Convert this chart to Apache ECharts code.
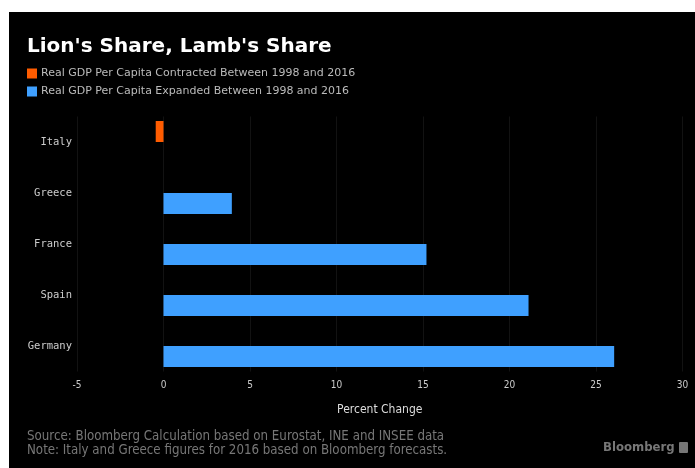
<!DOCTYPE html>
<html>
<head>
<meta charset="utf-8">
<script src="https://cdn.jsdelivr.net/npm/echarts@6/dist/echarts.min.js"></script>
<style>
  html, body { margin: 0; padding: 0; background: #fff; }
  #chart { position: absolute; left: 9px; top: 12px; width: 686px; height: 456px; background: #000; }
</style>
</head>
<body>
<div id="chart"></div>
<script>
// data
const countries = ['Italy', 'Greece', 'France', 'Spain', 'Germany'];
const contracted = [-0.45, null, null, null, null];
const expanded = [null, 3.95, 15.2, 21.1, 26.05];
const seriesNames = [
  'Real GDP Per Capita Contracted Between 1998 and 2016',
  'Real GDP Per Capita Expanded Between 1998 and 2016'
];

const chart = echarts.init(document.getElementById('chart'));

const option = {
  backgroundColor: '#000',
  animation: false,
  title: {
    text: "Lion's Share, Lamb's Share",
    left: 13,
    top: 20,
    textStyle: { color: '#fff', fontSize: 20, fontWeight: 'bold', fontFamily: 'DejaVu Sans' }
  },
  legend: {
    orient: 'vertical',
    left: 13,
    top: 51,
    itemWidth: 10,
    itemHeight: 10,
    itemGap: 7,
    icon: 'rect',
    data: seriesNames,
    textStyle: { color: '#bbb', fontSize: 11, fontFamily: 'DejaVu Sans', padding: [0, 0, 0, -1] }
  },
  grid: { left: 68, right: 12.5, top: 104.5, bottom: 96.5 },
  xAxis: {
    type: 'value',
    min: -5,
    max: 30,
    interval: 5,
    name: 'Percent Change',
    nameLocation: 'middle',
    nameGap: 32,
    nameTextStyle: { color: '#ddd', fontSize: 12, fontFamily: 'DejaVu Sans Condensed' },
    axisLine: { show: false },
    axisTick: { show: false },
    axisLabel: { color: '#ccc', fontSize: 10, margin: 9, fontFamily: 'DejaVu Sans Condensed' },
    splitLine: { show: true, lineStyle: { color: '#121212', width: 1 } }
  },
  yAxis: {
    type: 'category',
    data: countries,
    inverse: true,
    axisLine: { show: false },
    axisTick: { show: false },
    axisLabel: { color: '#ccc', fontSize: 10.5, margin: 5, fontFamily: 'DejaVu Sans Mono' }
  },
  series: [
    {
      name: seriesNames[0],
      type: 'bar',
      data: contracted,
      barWidth: 21,
      barGap: '0%',
      itemStyle: { color: '#ff5c00' }
    },
    {
      name: seriesNames[1],
      type: 'bar',
      data: expanded,
      barWidth: 21,
      itemStyle: { color: '#3fa0ff' }
    }
  ],
  graphic: [
    {
      type: 'text', left: 18, top: 418,
      style: {
        text: 'Source: Bloomberg Calculation based on Eurostat, INE and INSEE data\nNote: Italy and Greece figures for 2016 based on Bloomberg forecasts.',
        fill: '#777', font: '13.2px "DejaVu Sans Condensed"', lineHeight: 14
      }
    },
    {
      type: 'text', left: 594, top: 429,
      style: { text: 'Bloomberg', fill: '#777', font: 'bold 13px "DejaVu Sans Condensed"' }
    },
    {
      type: 'rect', left: 670, top: 430, shape: { width: 9, height: 11, r: 1 },
      style: { fill: '#777' }
    }
  ]
};

chart.setOption(option);
</script>
</body>
</html>
